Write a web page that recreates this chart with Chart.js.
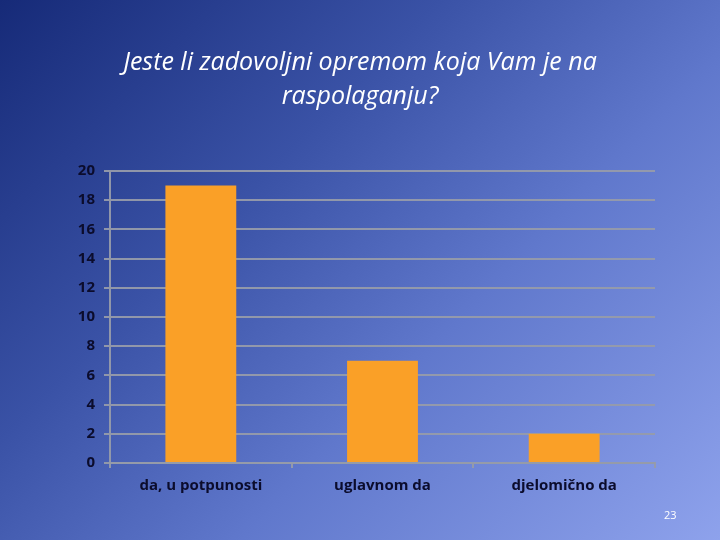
<!DOCTYPE html>
<html>
<head>
<meta charset="utf-8">
<script src="https://cdn.jsdelivr.net/npm/chart.js@4"></script>
<style>
  html, body { margin: 0; padding: 0; }
  body {
    width: 720px; height: 540px; overflow: hidden; position: relative;
    background: linear-gradient(135deg, #162a78 0%, #3a52a6 35%, #6078cc 62%, #8ea2ec 100%);
  }
  #wrap { position: absolute; left: 0; top: 0; width: 720px; height: 540px; }
  #page { position: absolute; left: 664px; top: 507px; color: #fff; font: 11px "Open Sans", sans-serif; }
</style>
</head>
<body>
<div id="wrap"><canvas id="chart" width="720" height="540"></canvas></div>
<div id="page">23</div>
<script>
const categories = ['da, u potpunosti', 'uglavnom da', 'djelomično da']
const answers = [19, 7, 2]
const titleLines = ['Jeste li zadovoljni opremom koja Vam je na', 'raspolaganju?']

const gridColor = 'rgba(150,155,170,0.95)'
const labelColor = '#0b0c2c'

new Chart(document.getElementById('chart'), {
    type: 'bar',
    data: {
        labels: categories,
        datasets: [{
            data: answers,
            backgroundColor: '#faa027',
            barPercentage: 0.39,
            categoryPercentage: 1
        }]
    },
    options: {
        responsive: false,
        animation: false,
        layout: { padding: { left: 65, right: 65, top: 0, bottom: 0 } },
        plugins: {
            legend: { display: false },
            tooltip: { enabled: false },
            title: {
                display: true,
                text: titleLines,
                color: '#ffffff',
                font: { family: 'Open Sans', size: 25, style: 'italic', weight: 'normal', lineHeight: 1.36 },
                padding: { top: 46, bottom: 57 }
            }
        },
        scales: {
            y: {
                min: 0,
                max: 20,
                ticks: {
                    stepSize: 2,
                    color: labelColor,
                    padding: 9,
                    font: { family: 'Open Sans', size: 15, weight: 'bold' }
                },
                grid: { color: gridColor, lineWidth: 2, tickLength: 6 },
                border: { color: gridColor, width: 2 },
                afterFit: (scale) => { scale.width = 45 }
            },
            x: {
                ticks: {
                    color: labelColor,
                    padding: 9,
                    font: { family: 'Open Sans', size: 15, weight: 'bold' }
                },
                grid: { display: true, drawOnChartArea: false, color: gridColor, lineWidth: 2, tickLength: 5 },
                border: { color: gridColor, width: 2 },
                afterFit: (scale) => { scale.height = 77 }
            }
        }
    }
});
</script>
</body>
</html>
